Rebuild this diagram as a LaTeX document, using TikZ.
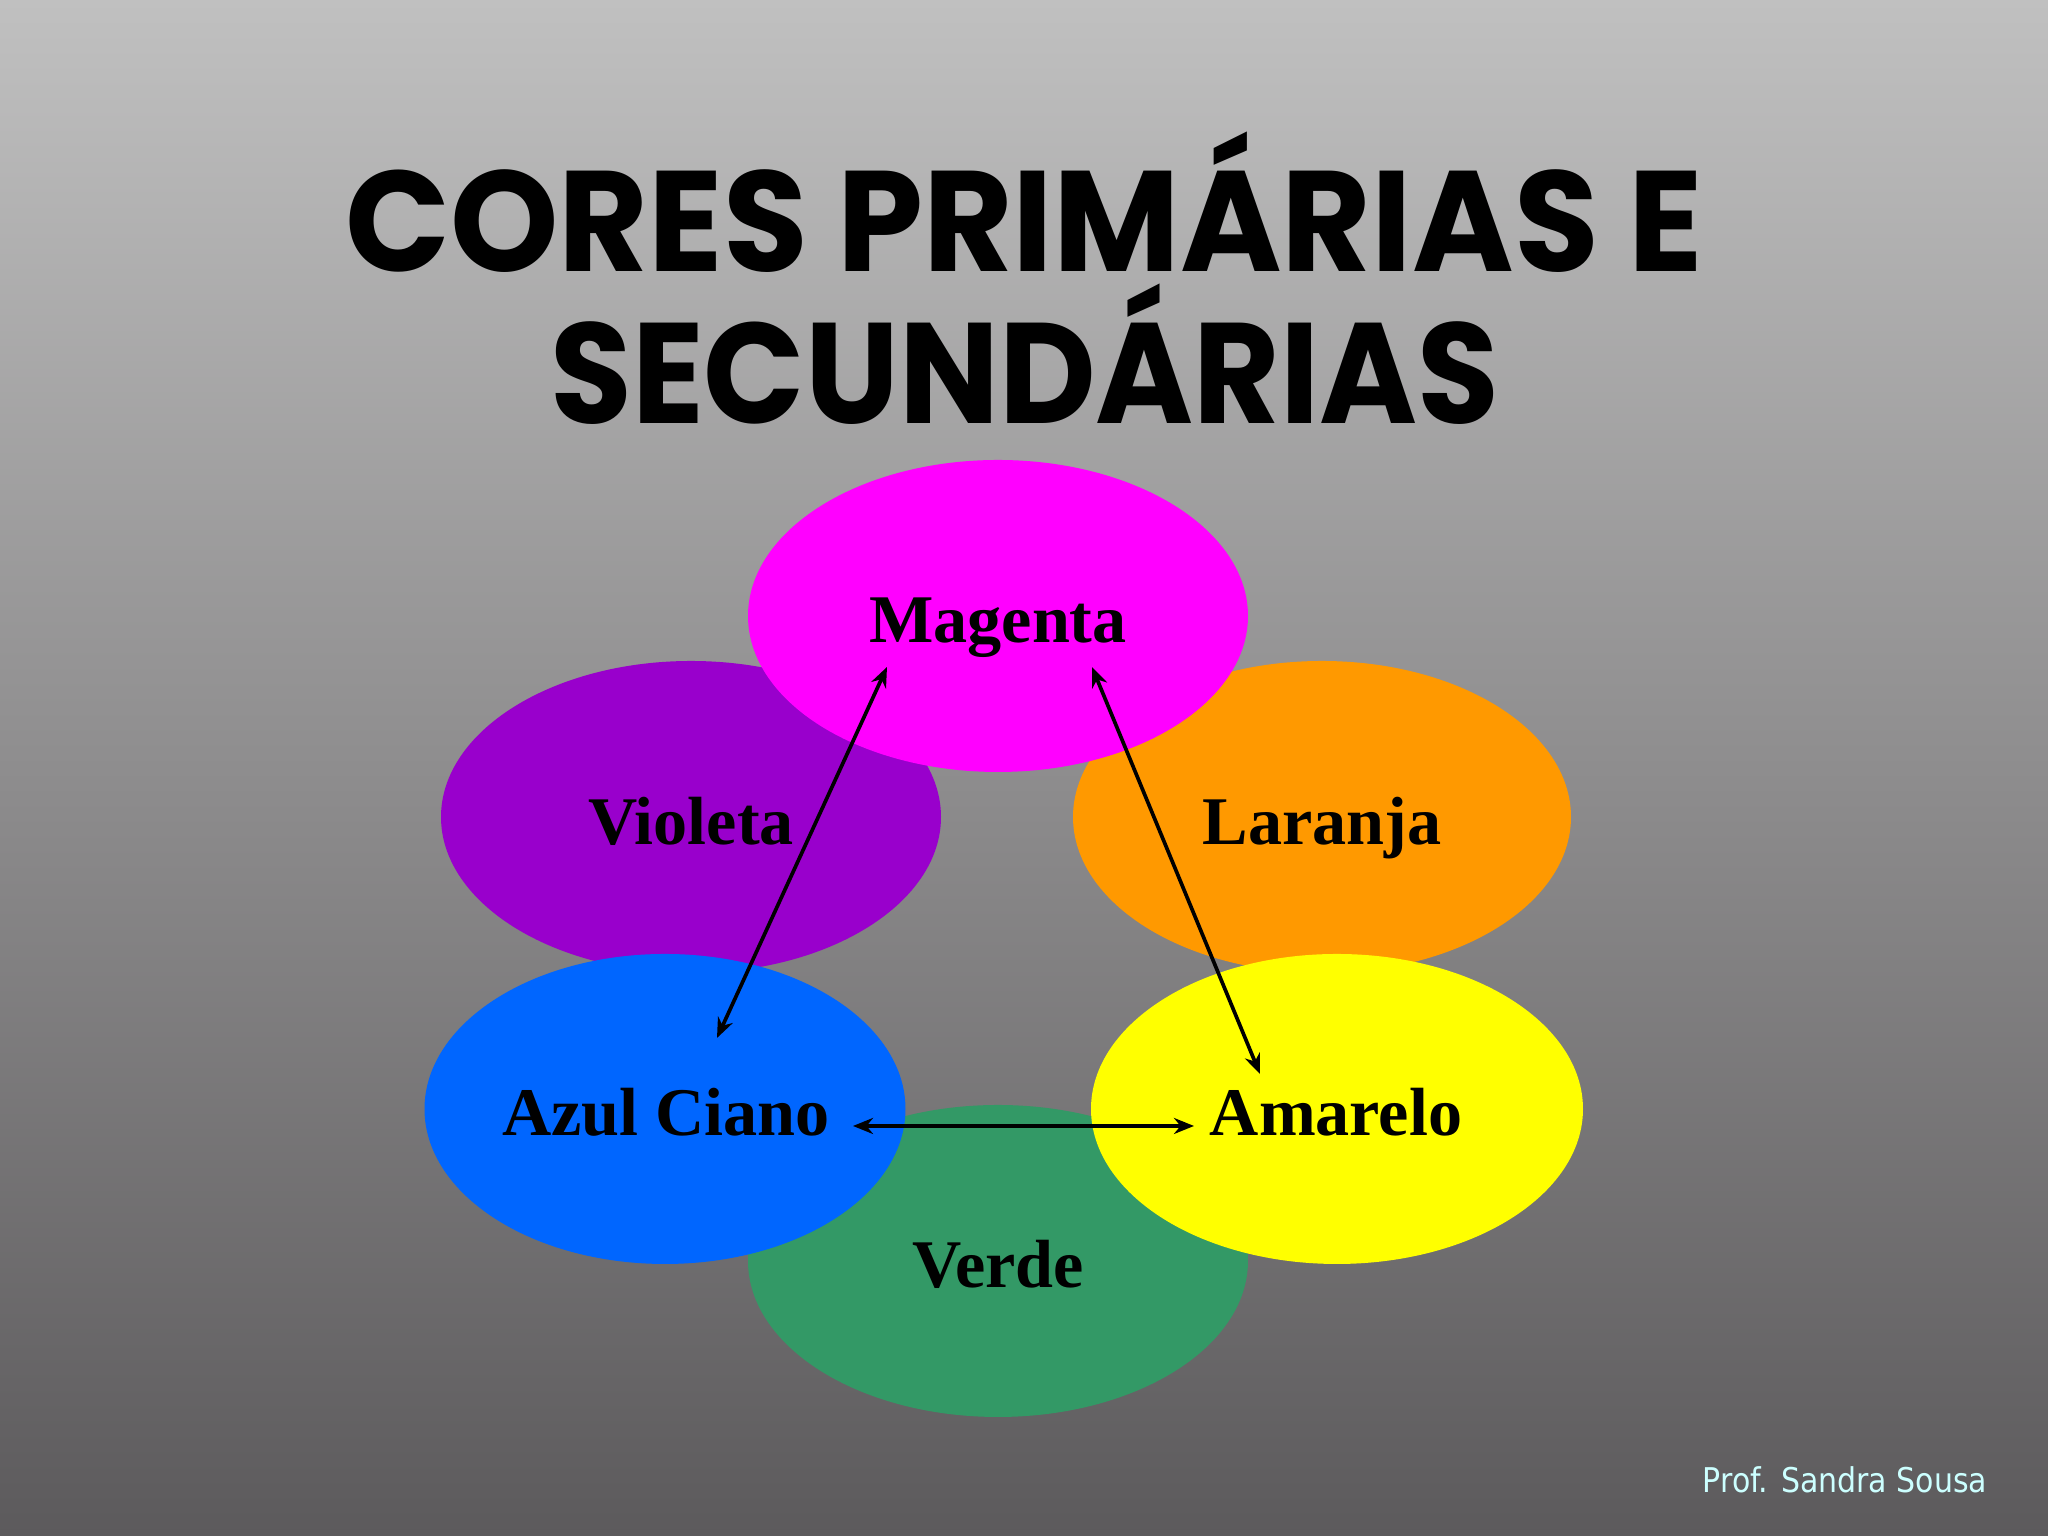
\documentclass[tikz,border=0pt]{standalone}
\usepackage{fontspec}
\setmainfont{Liberation Serif}
\newfontfamily\titlefontA[FakeStretch=0.964]{Poppins}
\newfontfamily\titlefontB[FakeStretch=0.93]{Poppins}
\newfontfamily\signfont[FakeStretch=0.88]{DejaVu Sans}
\usetikzlibrary{shapes.geometric,arrows.meta}
\definecolor{cmag}{HTML}{FF00FF}
\definecolor{cvio}{HTML}{9900CC}
\definecolor{clar}{HTML}{FF9900}
\definecolor{cazu}{HTML}{0066FF}
\definecolor{cama}{HTML}{FFFF00}
\definecolor{cver}{HTML}{339966}
\definecolor{bgtop}{HTML}{C0C0C0}
\definecolor{bgbot}{HTML}{5C5A5C}
\definecolor{csign}{HTML}{CCFFFF}
\tikzset{
  blob/.style={ellipse, draw=none, inner sep=0pt},
  lbl/.style={anchor=base, font=\bfseries\fontsize{19.4pt}{22pt}\selectfont, text=black},
  dbl/.style={line width=1.05pt, {Stealth[length=0.2cm,width=0.16cm]}-{Stealth[length=0.2cm,width=0.16cm]}},
  ttl/.style={anchor=base, text=black}
}
\begin{document}
\begin{tikzpicture}
\useasboundingbox (0,0) rectangle (20.48,15.36);
\shade[top color=bgtop, bottom color=bgbot] (0,0) rectangle (20.48,15.36);

\node[ttl, font=\titlefontA\bfseries\fontsize{40.7pt}{44pt}\selectfont] (t1) at (10.24,12.64) {CORES PRIMÁRIAS E};
\node[ttl, font=\titlefontB\bfseries\fontsize{40.7pt}{44pt}\selectfont] (t2) at (10.25,11.12) {SECUNDÁRIAS};

\node[blob, fill=cvio, minimum width=5.00cm, minimum height=3.12cm] (vio) at (6.91,7.19) {};
\node[blob, fill=clar, minimum width=4.98cm, minimum height=3.12cm] (lar) at (13.22,7.19) {};
\node[blob, fill=cmag, minimum width=5.00cm, minimum height=3.12cm] (mag) at (9.98,9.20) {};
\node[blob, fill=cver, minimum width=5.00cm, minimum height=3.12cm] (ver) at (9.98,2.75) {};
\node[blob, fill=cazu, minimum width=4.81cm, minimum height=3.10cm] (azu) at (6.65,4.27) {};
\node[blob, fill=cama, minimum width=4.92cm, minimum height=3.10cm] (ama) at (13.37,4.27) {};

\node[lbl] (lmag) at (9.98,8.93) {Magenta};
\node[lbl] (lvio) at (6.91,6.91) {Violeta};
\node[lbl] (llar) at (13.22,6.91) {Laranja};
\node[lbl] (lazu) at (6.66,4.00) {Azul Ciano};
\node[lbl] (lama) at (13.36,4.00) {Amarelo};
\node[lbl] (lver) at (9.98,2.48) {Verde};

\coordinate (a1) at (8.87,8.69);
\coordinate (b1) at (7.17,4.98);
\coordinate (a2) at (10.92,8.69);
\coordinate (b2) at (12.60,4.62);
\coordinate (c1) at (8.53,4.10);
\coordinate (c2) at (11.94,4.10);
\draw[dbl] (a1) -- (b1);
\draw[dbl] (a2) -- (b2);
\draw[dbl] (c1) -- (c2);

\node[anchor=base east, font=\signfont\fontsize{9.7pt}{11pt}\selectfont, text=csign, inner sep=0pt] (sign) at (19.88,0.43) {Prof. Sandra Sousa};
\end{tikzpicture}
\end{document}
